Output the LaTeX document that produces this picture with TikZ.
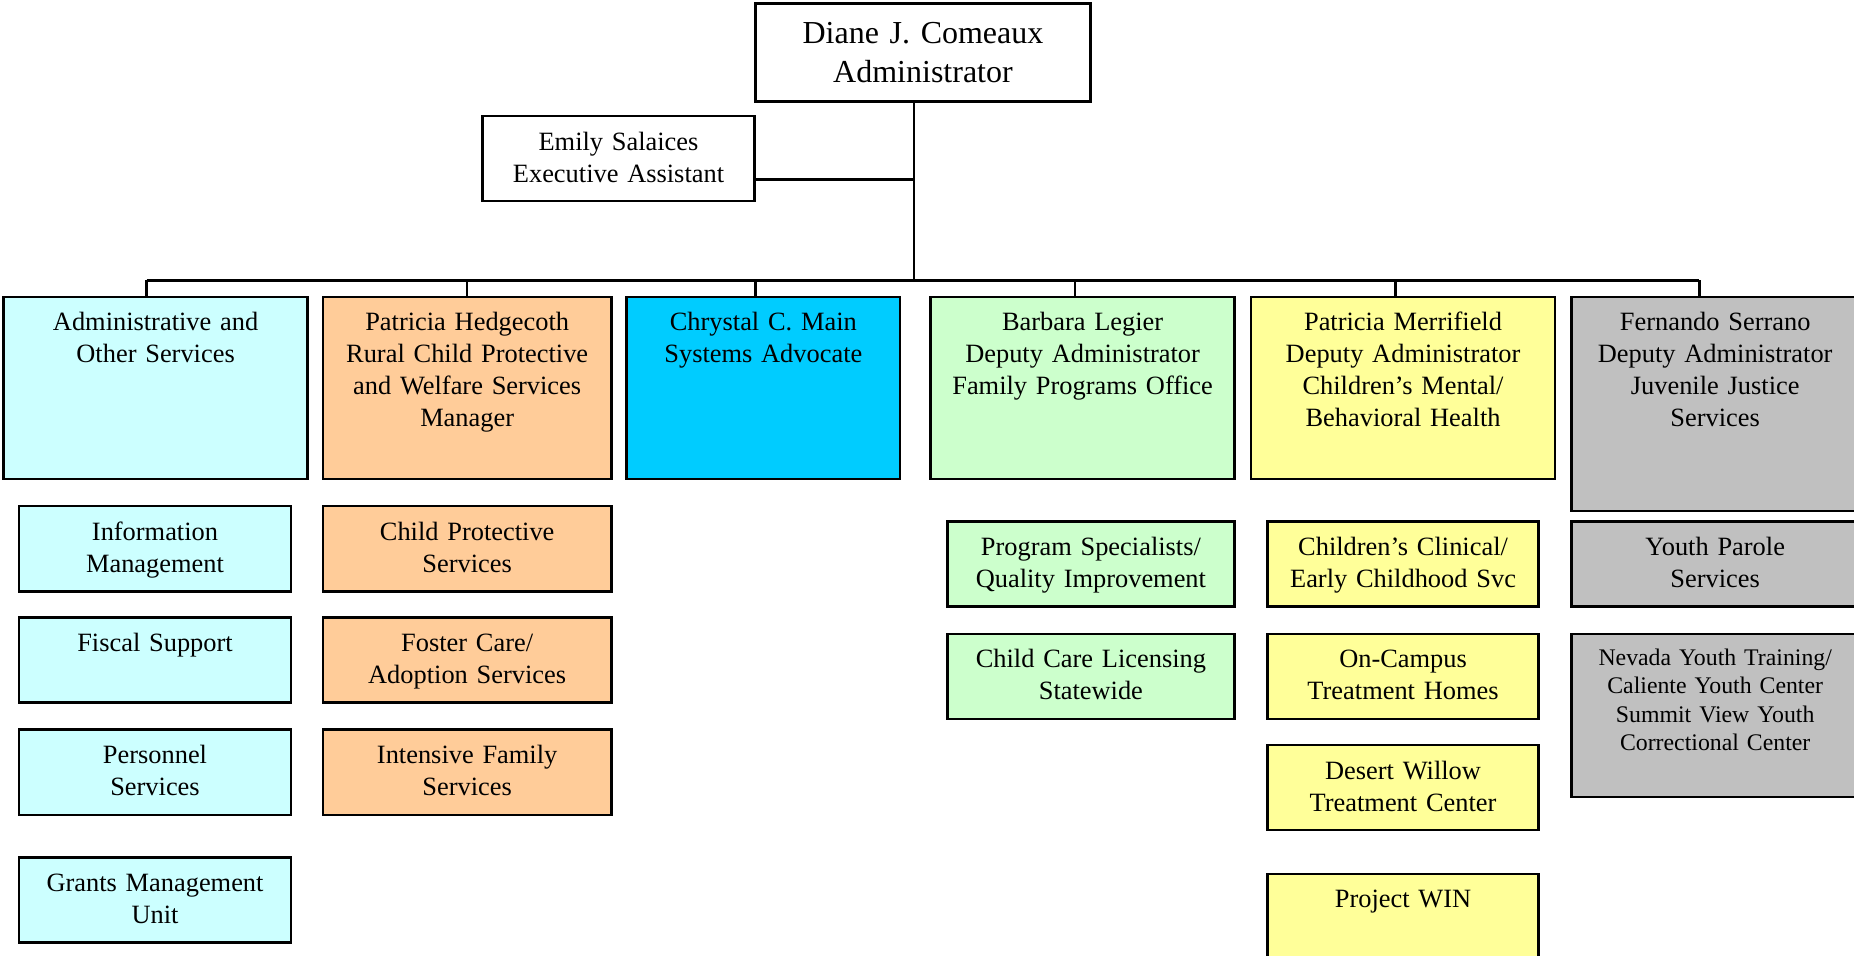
\documentclass[tikz,border=0pt]{standalone}
\usepackage{fontspec}
\setmainfont{Liberation Serif}
\usetikzlibrary{calc}
\definecolor{svcblue}{HTML}{CCFFFF}
\definecolor{cpsorange}{HTML}{FFCC99}
\definecolor{advblue}{HTML}{00CCFF}
\definecolor{famgreen}{HTML}{CCFFCC}
\definecolor{mhyellow}{HTML}{FFFF99}
\definecolor{jjgray}{HTML}{C0C0C0}

\begin{document}
\begin{tikzpicture}[x=0.5912pt,y=-0.5912pt,
  orgbox/.style={draw,line width=1.3pt,fill=#1,anchor=north west,align=center,
    inner xsep=0pt,inner ysep=0pt,text height=17pt,font=\fontsize{13.2}{16}\selectfont},
  boxw/.style={text width=#1*0.5912pt},
  boxh/.style={text depth=#1*0.5912pt-17pt},
  link/.style={line width=1.3pt}]
  \useasboundingbox (0,0) rectangle (1568,808);
  % administrador y asistente
  \node[orgbox=white,boxw=283,text height=20pt,text depth=29pt,font=\fontsize{16}{19.5}\selectfont] (boss) at (638,2) {Diane J. Comeaux\\Administrator};
  \node[orgbox=white,boxw=230,boxh=72] (asst) at (407,97) {Emily Salaices\\Executive Assistant};
  % divisiones
  \node[orgbox=svcblue,boxw=257,boxh=154] (adm) at (2,250) {Administrative and\\Other Services};
  \node[orgbox=cpsorange,boxw=244,boxh=154] (rural) at (272,250) {Patricia Hedgecoth\\Rural Child Protective\\and Welfare Services\\Manager};
  \node[orgbox=advblue,boxw=231,boxh=154] (advoc) at (529,250) {Chrystal C. Main\\Systems Advocate};
  \node[orgbox=famgreen,boxw=257,boxh=154] (family) at (786,250) {Barbara Legier\\Deputy Administrator\\Family Programs Office};
  \node[orgbox=mhyellow,boxw=257,boxh=154] (mental) at (1057,250) {Patricia Merrifield\\Deputy Administrator\\Children’s Mental/\\Behavioral Health};
  \node[orgbox=jjgray,boxw=243,boxh=181] (juvenile) at (1328,250) {Fernando Serrano\\Deputy Administrator\\Juvenile Justice\\Services};
  % unidades
  \node[orgbox=svcblue,boxw=230,boxh=72] (info) at (15,427) {Information\\Management};
  \node[orgbox=svcblue,boxw=230,boxh=72] (fiscal) at (15,521) {Fiscal Support};
  \node[orgbox=svcblue,boxw=230,boxh=72] (personnel) at (15,616) {Personnel\\Services};
  \node[orgbox=svcblue,boxw=230,boxh=72] (grants) at (15,724) {Grants Management\\Unit};
  \node[orgbox=cpsorange,boxw=244,boxh=72] (cps) at (272,427) {Child Protective\\Services};
  \node[orgbox=cpsorange,boxw=244,boxh=72] (foster) at (272,521) {Foster Care/\\Adoption Services};
  \node[orgbox=cpsorange,boxw=244,boxh=72] (ifs) at (272,616) {Intensive Family\\Services};
  \node[orgbox=famgreen,boxw=243,boxh=72] (prog) at (800,440) {Program Specialists/\\Quality Improvement};
  \node[orgbox=famgreen,boxw=243,boxh=72] (licensing) at (800,535) {Child Care Licensing\\Statewide};
  \node[orgbox=mhyellow,boxw=229,boxh=72] (clinical) at (1071,440) {Children’s Clinical/\\Early Childhood Svc};
  \node[orgbox=mhyellow,boxw=229,boxh=72] (oncampus) at (1071,535) {On-Campus\\Treatment Homes};
  \node[orgbox=mhyellow,boxw=229,boxh=72] (willow) at (1071,629) {Desert Willow\\Treatment Center};
  \node[orgbox=mhyellow,boxw=229,boxh=90] (win) at (1071,738) {Project WIN};
  \node[orgbox=jjgray,boxw=243,boxh=72] (parole) at (1328,440) {Youth Parole\\Services};
  \node[orgbox=jjgray,boxw=243,text height=15.8pt,text depth=65.8pt,font=\fontsize{11.9}{14.2}\selectfont] (nevada) at (1328,535) {Nevada Youth Training/\\Caliente Youth Center\\Summit View Youth\\Correctional Center};
  % lineas
  \coordinate (trunk) at (773,237);
  \draw[link] (boss.south -| trunk) -- (trunk);
  \draw[link] ([yshift=-10.6pt]asst.east) -- ([yshift=-10.6pt]asst.east -| trunk);
  \draw[link] ([xshift=-7.5*0.5912pt]adm.north |- trunk) -- ([xshift=-13.5*0.5912pt]juvenile.north |- trunk);
  \draw[link] ([xshift=-7.5*0.5912pt]adm.north) -- ([xshift=-7.5*0.5912pt]adm.north |- trunk);
  \draw[link] (rural.north) -- (rural.north |- trunk);
  \draw[link] ([xshift=-6.5*0.5912pt]advoc.north) -- ([xshift=-6.5*0.5912pt]advoc.north |- trunk);
  \draw[link] ([xshift=-6.5*0.5912pt]family.north) -- ([xshift=-6.5*0.5912pt]family.north |- trunk);
  \draw[link] ([xshift=-6.5*0.5912pt]mental.north) -- ([xshift=-6.5*0.5912pt]mental.north |- trunk);
  \draw[link] ([xshift=-13.5*0.5912pt]juvenile.north) -- ([xshift=-13.5*0.5912pt]juvenile.north |- trunk);
\end{tikzpicture}
\end{document}
